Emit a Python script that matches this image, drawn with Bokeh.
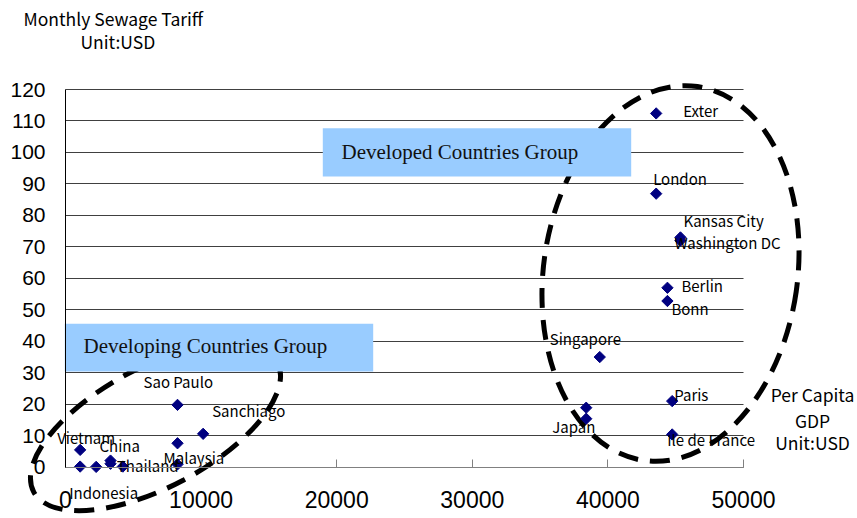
import numpy as np
from bokeh.plotting import figure
from bokeh.models import Range1d, FixedTicker, ColumnDataSource, Label
from bokeh.core.properties import value
from bokeh.embed import file_html
from bokeh.resources import INLINE

# ---------------- data ----------------
names = ["Exter", "London", "Kansas City", "Washington DC", "Berlin", "Bonn",
         "Singapore", "Paris", "Japan", "Japan", "Ile de France",
         "Sao Paulo", "Sanchiago", "Malaysia", "Malaysia", "Vietnam", "Vietnam",
         "Indonesia", "China", "China", "Thailand"]
gdp = [43560, 43560, 45350, 45350, 44390, 44390,
       39400, 44740, 38400, 38400, 44740,
       8260, 10150, 8260, 8260, 1080, 1080,
       2260, 3320, 3320, 4230]
tariff = [112.4, 86.9, 73.0, 72.0, 57.0, 52.8,
          35.0, 21.0, 18.9, 15.4, 10.4,
          19.8, 10.6, 7.6, 0.9, 5.5, 0.2,
          0.1, 2.1, 1.1, 0.2]

# which point each city label is attached to
label_text = ["Exter", "London", "Kansas City", "Washington DC", "Berlin", "Bonn",
              "Singapore", "Paris", "Japan", "Ile de France", "Sao Paulo", "Sanchiago",
              "Malaysia", "Vietnam", "China", "Thailand", "Indonesia"]
label_point = [0, 1, 2, 3, 4, 5, 6, 7, 9, 10, 11, 12, 14, 15, 18, 20, 17]

x_ticks = [0, 10000, 20000, 30000, 40000, 50000]
y_ticks = [0, 10, 20, 30, 40, 50, 60, 70, 80, 90, 100, 110, 120]

# ---------------- layout (screen pixels) ----------------
W, H = 857, 518
# label offsets in screen px (left edge, vertical centre) relative to the point
label_dx = [27, -3, 3, -6, 14, 4, -50, 2, -34, -5, -34, 9, -14, -23, -11, -6, -27]
label_dy = [-3, -15, -17, 2, -2, 7, -19, -7, 8, 5, -23, -23, -7, -12, -15, -1, 26]

# frame covers the whole canvas; data 0..50000 -> px 65..743, 0..120 -> px 466.7..89
px_x0, px_x1 = 65.0, 743.0
px_y0, px_y1 = 466.7, 89.0
kx = (px_x1 - px_x0) / 50000.0
ky = (px_y0 - px_y1) / 120.0
x_range = Range1d(-px_x0 / kx, (W - px_x0) / kx)
y_range = Range1d(-(H - px_y0) / ky, px_y0 / ky)

def dx_(px):
    return (px - px_x0) / kx

def dy_(py):
    return (px_y0 - py) / ky

p = figure(width=W, height=H, x_range=x_range, y_range=y_range,
           toolbar_location=None, output_backend="svg", min_border=0,
           outline_line_color=None, background_fill_color="white",
           border_fill_color="white")
p.min_border_left = p.min_border_right = p.min_border_top = p.min_border_bottom = 0

# axes placed inside the frame
xa = p.xaxis[0]
ya = p.yaxis[0]
xa.fixed_location = 0
ya.fixed_location = 0
xa.bounds = (0, 50000)
ya.bounds = (0, 120)
xa.ticker = FixedTicker(ticks=x_ticks)
ya.ticker = FixedTicker(ticks=y_ticks)
xa.minor_tick_line_color = None
ya.minor_tick_line_color = None
xa.major_tick_in = 8
xa.major_tick_out = 0
ya.major_tick_in = 0
ya.major_tick_out = 0
xa.axis_line_color = "#808080"
xa.major_tick_line_color = "#808080"
ya.axis_line_color = "#000000"
xa.major_label_text_font = "Liberation Sans"
ya.major_label_text_font = "Liberation Sans"
xa.major_label_text_font_size = "23px"
ya.major_label_text_font_size = "21px"
xa.major_label_text_color = "black"
ya.major_label_text_color = "black"
xa.major_label_standoff = 24
ya.major_label_standoff = 20

p.xgrid.visible = False
p.ygrid.ticker = FixedTicker(ticks=y_ticks)
p.ygrid.bounds = (0, 120)
p.ygrid.cross_bounds = (0, 50000)
p.ygrid.grid_line_color = "#404040"
p.ygrid.grid_line_width = 1

# dashed group ellipses (annotations)
ell = ColumnDataSource(dict(x=[dx_(670), dx_(155)], y=[dy_(273), dy_(426.5)],
                            w=[254, 276], h=[378, 120], a=[-0.143, 0.489]))
p.ellipse(x="x", y="y", width="w", height="h", angle="a", source=ell,
          width_units="screen", height_units="screen",
          fill_color=None, line_color="black", line_width=5, line_dash="20 12")

# group boxes
p.quad(left=[dx_(322.3), dx_(64.3)], right=[dx_(630.7), dx_(372.7)],
       top=[dy_(127.7), dy_(323.3)], bottom=[dy_(176.0), dy_(371.0)],
       fill_color="#99CCFF", line_color=None)

for txt, x, y in [("Developed Countries Group", 341, 151),
                  ("Developing Countries Group", 83, 345)]:
    p.add_layout(Label(x=x, y=H - y, x_units="screen", y_units="screen", text=txt,
                       text_font="Liberation Serif", text_font_size="21px",
                       text_baseline="middle", text_align="left", text_color="#111111"))

# points
src = ColumnDataSource(dict(x=gdp, y=tariff, name=names))
p.scatter(x="x", y="y", source=src, marker="square", angle=np.pi / 4, size=8,
          fill_color="#000080", line_color="#000080")

lsrc = ColumnDataSource(dict(x=[gdp[i] for i in label_point],
                             y=[tariff[i] for i in label_point],
                             t=label_text, dx=label_dx, dy=label_dy))
p.text(x="x", y="y", text="t", x_offset="dx", y_offset="dy", source=lsrc,
       text_font=value("Noto Sans CJK JP"), text_font_size="15px",
       text_baseline="middle", text_align="left", text_color="black")

# axis titles
for txt, x, y, al in [("Monthly  Sewage Tariff", 23, 18, "left"),
                      ("Unit:USD", 80, 41, "left"),
                      ("Per Capita", 812, 394, "center"),
                      ("GDP", 812, 420, "center"),
                      ("Unit:USD", 812, 442, "center")]:
    p.add_layout(Label(x=x, y=H - y, x_units="screen", y_units="screen", text=txt,
                       text_font="Noto Sans CJK JP", text_font_size="17.5px",
                       text_baseline="middle", text_align=al, text_color="black"))

open("out.html", "w").write(file_html(p, INLINE))
